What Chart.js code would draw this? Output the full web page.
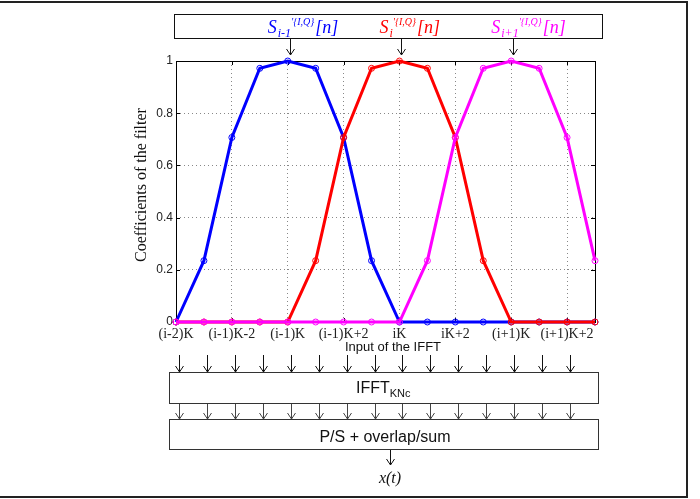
<!DOCTYPE html>
<html lang="en">
<head>
  <meta charset="UTF-8">
  <title>Filter coefficients and IFFT</title>
  <style>
    body { margin: 0; background: #fff; }
    canvas { display: block; }
  </style>
</head>
<body>
  <canvas id="myChart" width="700" height="499"></canvas>

  <script src="https://cdn.jsdelivr.net/npm/chart.js"></script>
  <script>
    // sample index n inside the window
    const samples = [0, 1, 2, 3, 4, 5, 6, 7, 8, 9, 10, 11, 12, 13, 14, 15];
    // filter coefficients (PHYDYAS-like, K = 4)
    const blueCoef    = [0, 0.235, 0.707, 0.972, 1, 0.972, 0.707, 0.235, 0, 0, 0, 0, 0, 0, 0, 0];
    const redCoef     = [0, 0, 0, 0, 0, 0.235, 0.707, 0.972, 1, 0.972, 0.707, 0.235, 0, 0, 0, 0];
    const magentaCoef = [0, 0, 0, 0, 0, 0, 0, 0, 0, 0.235, 0.707, 0.972, 1, 0.972, 0.707, 0.235];
    const xTickLabels = ['(i-2)K', '(i-1)K-2', '(i-1)K', '(i-1)K+2', 'iK', 'iK+2', '(i+1)K', '(i+1)K+2'];
    const yTickLabels = ['0', '0.2', '0.4', '0.6', '0.8', '1'];
    const symbolSubs  = ['i-1', 'i', 'i+1'];
    const symbolAt    = [4, 8, 12];

    const toPoints = vals => samples.map((x, i) => ({ x: x, y: vals[i] }));

    function arrowDown(ctx, x, y0, y1, color) {
      ctx.strokeStyle = color;
      ctx.lineWidth = 1;
      ctx.beginPath();
      ctx.moveTo(x, y0);
      ctx.lineTo(x, y1);
      ctx.moveTo(x - 4, y1 - 6);
      ctx.lineTo(x, y1);
      ctx.lineTo(x + 4, y1 - 6);
      ctx.stroke();
    }

    function drawSymbol(ctx, x, y, sub, color) {
      ctx.fillStyle = color;
      ctx.textAlign = 'left';
      ctx.textBaseline = 'alphabetic';
      ctx.font = 'italic 18px "Liberation Serif"';
      ctx.fillText('S', x, y);
      x += ctx.measureText('S').width + 1;
      ctx.font = 'italic 12px "Liberation Serif"';
      ctx.fillText(sub, x, y + 4);
      x += ctx.measureText(sub).width;
      ctx.font = 'italic 10px "Liberation Serif"';
      ctx.fillText("'{I,Q}", x, y - 8);
      x += ctx.measureText("'{I,Q}").width + 1;
      ctx.font = 'italic 18px "Liberation Serif"';
      ctx.fillText('[n]', x, y);
    }

    const extras = {
      id: 'extras',
      beforeDatasetsDraw(chart) {
        const { ctx, chartArea: a, scales } = chart;
        ctx.save();
        // inward tick marks
        ctx.strokeStyle = '#000';
        ctx.lineWidth = 1;
        ctx.beginPath();
        for (let v = 2; v < 15; v += 2) {
          const px = Math.round(scales.x.getPixelForValue(v)) + 0.5;
          ctx.moveTo(px, a.bottom); ctx.lineTo(px, a.bottom - 4);
          ctx.moveTo(px, a.top); ctx.lineTo(px, a.top + 4);
        }
        for (let i = 1; i < yTickLabels.length - 1; i++) {
          const py = Math.round(scales.y.getPixelForValue(i * 0.2)) + 0.5;
          ctx.moveTo(a.left, py); ctx.lineTo(a.left + 4, py);
          ctx.moveTo(a.right, py); ctx.lineTo(a.right - 4, py);
        }
        ctx.stroke();
        // axes box
        ctx.strokeRect(Math.round(a.left) + 0.5, Math.round(a.top) + 0.5,
          Math.round(a.right - a.left), Math.round(a.bottom - a.top));
        ctx.restore();
      },
      afterDraw(chart) {
        const { ctx, chartArea: a, scales } = chart;
        ctx.save();

        // outer frame
        ctx.strokeStyle = '#222';
        ctx.lineWidth = 2;
        ctx.beginPath();
        ctx.moveTo(0, 2); ctx.lineTo(687, 2); ctx.lineTo(687, 497); ctx.lineTo(0, 497);
        ctx.stroke();

        // top box with symbols
        ctx.lineWidth = 1;
        ctx.strokeStyle = '#111';
        ctx.strokeRect(174.5, 14.5, 428, 24);
        const colors = ['#0000ff', '#ff0000', '#ff00ff'];
        symbolAt.forEach((n, i) => {
          const px = scales.x.getPixelForValue(n);
          drawSymbol(ctx, px - 20, 33, symbolSubs[i], colors[i]);
          arrowDown(ctx, Math.round(px) + 2.5, 39, 55, '#111');
        });

        // y axis title
        ctx.fillStyle = '#111';
        ctx.font = '16px "Liberation Serif"';
        ctx.textAlign = 'center';
        ctx.textBaseline = 'middle';
        ctx.save();
        ctx.translate(142, 185);
        ctx.rotate(-Math.PI / 2);
        ctx.fillText('Coefficients of the filter', 0, 0);
        ctx.restore();

        // x axis title
        ctx.font = '13px "Liberation Sans"';
        ctx.fillText('Input of the IFFT', 393, 347);

        // arrows into IFFT and P/S
        for (let n = 0; n < 15; n++) {
          const px = Math.round(scales.x.getPixelForValue(n)) + 3.5;
          arrowDown(ctx, px, 355, 372, '#111');
          arrowDown(ctx, px, 404, 419, '#444');
        }

        ctx.strokeStyle = '#333';
        ctx.strokeRect(169.5, 372.5, 429, 31);
        ctx.strokeRect(169.5, 419.5, 429, 30);

        // IFFT label with subscript
        ctx.textAlign = 'left';
        ctx.textBaseline = 'alphabetic';
        ctx.font = '16px "Liberation Sans"';
        ctx.fillStyle = '#111';
        ctx.fillText('IFFT', 356, 393);
        const w = ctx.measureText('IFFT').width;
        ctx.font = '11px "Liberation Sans"';
        ctx.fillText('KNc', 356 + w, 397);

        ctx.textAlign = 'center';
        ctx.font = '16px "Liberation Sans"';
        ctx.fillText('P/S + overlap/sum', 385, 442);

        arrowDown(ctx, 390.5, 450, 465, '#111');
        ctx.font = 'italic 16px "Liberation Serif"';
        ctx.fillText('x(t)', 390, 483);

        ctx.restore();
      }
    };

    window.onload = function () {
      const lineSet = (vals, color, order) => ({
        data: toPoints(vals),
        borderColor: color,
        backgroundColor: color,
        borderWidth: 3,
        pointRadius: 3,
        pointBorderWidth: 1,
        pointBackgroundColor: 'rgba(0,0,0,0)',
        pointBorderColor: color,
        tension: 0,
        clip: false,
        order: order
      });

      const ctx = document.getElementById('myChart').getContext('2d');
      new Chart(ctx, {
        type: 'line',
        data: {
          datasets: [
            lineSet(blueCoef, '#0000ff', 3),
            lineSet(redCoef, '#ff0000', 2),
            lineSet(magentaCoef, '#ff00ff', 1)
          ]
        },
        options: {
          responsive: false,
          animation: false,
          devicePixelRatio: 1,
          layout: { padding: { left: 0, top: 61, right: 105, bottom: 0 } },
          plugins: { legend: { display: false }, tooltip: { enabled: false } },
          scales: {
            x: {
              type: 'linear',
              min: 0,
              max: 15,
              afterFit: s => { s.height = 177; },
              grid: { color: '#888', drawTicks: false },
              border: { display: false, dash: [1, 3] },
              ticks: {
                stepSize: 2,
                padding: 4,
                maxRotation: 0,
                autoSkip: false,
                color: '#222',
                font: { family: 'Liberation Serif', size: 14 },
                callback: v => (v % 2 === 0 ? xTickLabels[v / 2] : '')
              }
            },
            y: {
              min: 0,
              max: 1,
              afterFit: s => { s.width = 176; },
              grid: { color: '#888', drawTicks: false },
              border: { display: false, dash: [1, 3] },
              ticks: {
                stepSize: 0.2,
                padding: 3,
                color: '#222',
                font: { family: 'Liberation Sans', size: 12 },
                callback: v => yTickLabels[Math.round(v * 5)]
              }
            }
          }
        },
        plugins: [extras]
      });
    };
  </script>
</body>
</html>
